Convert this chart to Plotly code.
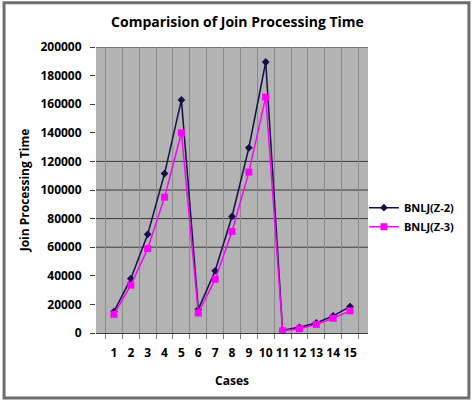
import plotly.graph_objects as go

cases = [str(i) for i in range(1, 16)]
bnlj_z2 = [15000, 38000, 69000, 111500, 163000, 16500, 43500, 81500, 129500, 189500, 2000, 4000, 7000, 12000, 18500]
bnlj_z3 = [13000, 33500, 59000, 95000, 140000, 14000, 37500, 71000, 112500, 165000, 1500, 3000, 6000, 10300, 15500]
y_ticks = list(range(0, 200001, 20000))
visible_grid = [60000, 80000, 100000, 120000, 200000]

FONT = "Open Sans"

fig = go.Figure()
fig.add_trace(go.Scatter(
    x=cases, y=bnlj_z2, name="<b>BNLJ(Z-2)</b>", mode="lines+markers",
    line=dict(color="#10104a", width=1.5),
    marker=dict(symbol="diamond", size=6, color="#10104a"),
))
fig.add_trace(go.Scatter(
    x=cases, y=bnlj_z3, name="<b>BNLJ(Z-3)</b>", mode="lines+markers",
    line=dict(color="#ff00ff", width=1.5),
    marker=dict(symbol="square", size=7, color="#ff00ff"),
))

shapes = []
for v in visible_grid:
    shapes.append(dict(type="line", xref="paper", yref="y", x0=0, x1=1, y0=v, y1=v,
                       line=dict(color="#3a3a3a", width=1), layer="below"))
# outer frame
shapes.append(dict(type="rect", xref="paper", yref="paper",
                   x0=-0.338, x1=1.371, y0=-0.227, y1=1.155,
                   line=dict(color="#6e6e6e", width=3)))

fig.update_layout(
    width=474, height=402,
    margin=dict(l=96, r=106, t=47, b=69),
    paper_bgcolor="white", plot_bgcolor="#b3b3b3",
    font=dict(family=FONT, color="black"),
    title=dict(text="<b>Comparision of Join Processing Time</b>", x=0.52, xanchor="center",
               y=0.945, yanchor="middle", xref="paper",
               font=dict(size=14, family=FONT)),
    showlegend=True,
    legend=dict(x=0.985, y=0.405, xanchor="left", yanchor="middle",
                font=dict(size=11, family=FONT), bgcolor="rgba(0,0,0,0)",
                itemwidth=30, tracegroupgap=2, borderwidth=0),
    shapes=shapes,
)
fig.update_xaxes(
    type="category", tickson="boundaries", ticks="outside", ticklen=5, tickcolor="#7a7a7a",
    showgrid=True, gridcolor="#8a8a8a", gridwidth=1,
    showline=True, linecolor="#3a3a3a", linewidth=1,
    tickangle=0,
    tickfont=dict(size=12, family=FONT), ticklabelstandoff=9,
    title=dict(text="<b>Cases</b>", font=dict(size=12, family=FONT), standoff=16),
    tickprefix="<b>", ticksuffix="</b>",
)
fig.update_yaxes(
    range=[0, 200000], tickvals=y_ticks, ticktext=[f"<b>{v}</b>" for v in y_ticks],
    ticks="outside", ticklen=5, tickcolor="#3a3a3a",
    showgrid=False, zeroline=False, showline=False,
    tickfont=dict(size=12, family=FONT), ticklabelstandoff=6,
    title=dict(text="<b>Join Processing Time</b>", font=dict(size=12, family=FONT), standoff=8),
)

fig.write_html("out.html")
